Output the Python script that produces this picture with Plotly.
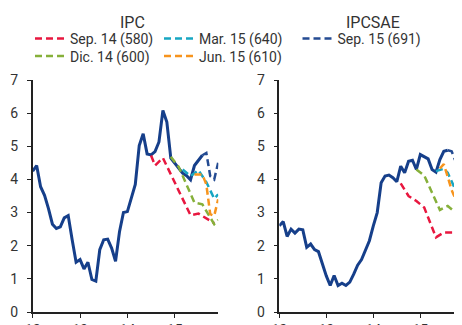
import plotly.graph_objects as go

FONT = "Roboto, Arial"
INK = "#333333"

YEAR_TICKS = [12, 13, 14, 15]
YEAR_LABELS = ["12", "13", "14", "15"]

# observed values, month index 0 = Jan 2012
obs_months = list(range(44))
ipc_obs = [4.25, 4.42, 3.78, 3.52, 3.12, 2.65, 2.52, 2.57, 2.84, 2.91,
           2.18, 1.50, 1.58, 1.30, 1.50, 0.98, 0.93, 1.88, 2.18, 2.20,
           1.93, 1.53, 2.42, 3.00, 3.03, 3.45, 3.85, 5.02, 5.38, 4.77,
           4.74, 4.84, 5.13, 6.08, 5.73, 4.64, 4.50, 4.36, 4.19, 4.11,
           3.99, 4.42, 4.58, 4.73]
ipcsae_obs = [2.60, 2.73, 2.28, 2.50, 2.38, 2.50, 2.48, 1.95, 2.05, 1.88,
              1.82, 1.44, 1.09, 0.80, 1.10, 0.80, 0.87, 0.80, 0.90, 1.14,
              1.41, 1.58, 1.85, 2.15, 2.60, 3.00, 3.90, 4.10, 4.13, 4.05,
              3.93, 4.40, 4.20, 4.55, 4.58, 4.30, 4.75, 4.68, 4.62, 4.30,
              4.22, 4.60, 4.85, 4.88]

# forecasts (month index, value)
sep14_ipc_m = [30, 31, 33, 40, 42, 46]
sep14_ipc = [4.72, 4.42, 4.65, 2.92, 2.97, 2.68]
sep14_sae_m = [31, 33, 35, 37, 40, 42, 45, 47]
sep14_sae = [3.88, 3.50, 3.35, 3.15, 2.25, 2.40, 2.40, 2.50]

dic14_ipc_m = [35, 37, 41, 43, 46, 47]
dic14_ipc = [4.68, 4.38, 3.30, 3.25, 2.65, 2.78]
dic14_sae_m = [35, 37, 39, 41, 43, 47]
dic14_sae = [4.30, 4.12, 3.60, 3.08, 3.20, 2.80]

mar15_ipc_m = [38, 40, 42, 44, 46, 47]
mar15_ipc = [4.30, 4.10, 4.28, 3.92, 3.42, 3.55]
mar15_sae_m = [40, 42, 43, 44, 45, 46, 47]
mar15_sae = [4.25, 4.32, 4.20, 3.95, 3.68, 3.42, 3.30]

jun15_ipc_m = [41, 43, 44, 45, 46, 47]
jun15_ipc = [4.15, 4.15, 3.85, 2.95, 2.90, 3.40]
jun15_sae_m = [41, 42, 43, 44, 45, 46, 47]
jun15_sae = [4.33, 4.46, 4.08, 3.68, 3.40, 3.25, 3.15]

sep15_ipc_m = [43, 44, 45, 46, 47]
sep15_ipc = [4.73, 4.80, 4.10, 4.00, 4.50]
sep15_sae_m = [43, 44, 45, 46, 47]
sep15_sae = [4.88, 4.85, 4.55, 4.42, 4.35]


def yr(months):
    return [12 + m / 12 for m in months]


forecasts = [
    ("Sep. 14 (580)", "#e8173f", "legend", sep14_ipc_m, sep14_ipc, sep14_sae_m, sep14_sae),
    ("Dic. 14 (600)", "#86b03a", "legend2", dic14_ipc_m, dic14_ipc, dic14_sae_m, dic14_sae),
    ("Mar. 15 (640)", "#17a6c2", "legend3", mar15_ipc_m, mar15_ipc, mar15_sae_m, mar15_sae),
    ("Jun. 15 (610)", "#f7941d", "legend4", jun15_ipc_m, jun15_ipc, jun15_sae_m, jun15_sae),
    ("Sep. 15 (691)", "#244b92", "legend5", sep15_ipc_m, sep15_ipc, sep15_sae_m, sep15_sae),
]

fig = go.Figure()

solid = dict(color="#163f8a", width=3)
fig.add_trace(go.Scatter(x=yr(obs_months), y=ipc_obs, mode="lines", line=solid,
                         showlegend=False, xaxis="x", yaxis="y"))
fig.add_trace(go.Scatter(x=yr(obs_months), y=ipcsae_obs, mode="lines", line=solid,
                         showlegend=False, xaxis="x2", yaxis="y2"))

for name, color, leg, m1, v1, m2, v2 in forecasts:
    dash = dict(color=color, width=2.5, dash="7px,4px")
    fig.add_trace(go.Scatter(x=yr(m1), y=v1, mode="lines", line=dash, name=name,
                             legend=leg, xaxis="x", yaxis="y"))
    fig.add_trace(go.Scatter(x=yr(m2), y=v2, mode="lines", line=dash, name=name,
                             showlegend=False, xaxis="x2", yaxis="y2"))

# the page puts the figure 8px in from the top-left corner
OFF = 8
W, H = 462 - OFF, 325 - OFF
top, bottom = 80 - OFF, 311.7 - OFF


def px(x):
    return (x - OFF) / W


def py(y):
    return (bottom - (y - OFF)) / (bottom - top)


axis_common = dict(
    showline=True, linecolor="#222222", linewidth=1.5,
    ticks="outside", ticklen=4, tickcolor="#222222", tickwidth=1,
    showgrid=False, zeroline=False, automargin=False,
    tickfont=dict(family=FONT, size=14, color=INK),
)

xa = dict(axis_common, tickvals=YEAR_TICKS, ticktext=YEAR_LABELS)
ya = dict(axis_common, range=[0, 7], dtick=1, ticklabelstandoff=6)

leg_common = dict(xanchor="left", yanchor="middle", bgcolor="rgba(0,0,0,0)",
                  font=dict(family=FONT, size=14, color=INK), itemwidth=30,
                  tracegroupgap=0)
row1, row2 = py(39), py(56.5)

fig.update_layout(
    width=W, height=H,
    margin=dict(l=0, r=0, t=top, b=H - bottom, autoexpand=False),
    paper_bgcolor="white", plot_bgcolor="white",
    font=dict(family=FONT, color=INK),
    xaxis=dict(xa, domain=[px(32.7), px(218.3)], range=[12, 15.92], anchor="y"),
    yaxis=dict(ya, domain=[0, 1], anchor="x"),
    xaxis2=dict(xa, domain=[px(279.3), 1], range=[12, 15.887], anchor="y2"),
    yaxis2=dict(ya, domain=[0, 1], anchor="x2"),
    legend=dict(leg_common, x=px(30), y=row1),
    legend2=dict(leg_common, x=px(30), y=row2),
    legend3=dict(leg_common, x=px(159), y=row1),
    legend4=dict(leg_common, x=px(159), y=row2),
    legend5=dict(leg_common, x=px(297.5), y=row1),
    annotations=[
        dict(text="IPC", x=px(133), y=py(11), xref="paper", yref="paper",
             xanchor="center", yanchor="top", showarrow=False,
             font=dict(family=FONT, size=16, color=INK)),
        dict(text="IPCSAE", x=px(373), y=py(11), xref="paper", yref="paper",
             xanchor="center", yanchor="top", showarrow=False,
             font=dict(family=FONT, size=16, color=INK)),
    ],
)

fig.write_html("out.html")
